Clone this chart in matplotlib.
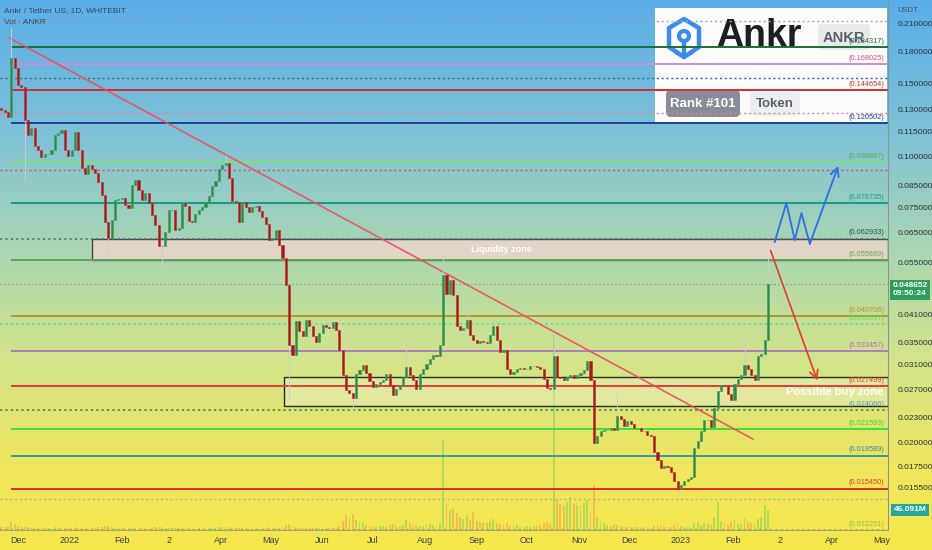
import numpy as np
import matplotlib
matplotlib.use("Agg")
import matplotlib.pyplot as plt
import matplotlib.transforms as mtransforms
from matplotlib.colors import LinearSegmentedColormap
from matplotlib.patches import Rectangle, FancyBboxPatch, Circle
from matplotlib.ticker import NullLocator

plt.rcParams['font.family'] = ['Liberation Sans', 'DejaVu Sans']

# ANKR/USDT, 2-day candles (close prices, USDT)
first_date = '2021-11-21'
first_open = 0.131
closes = [
    0.1295, 0.1281, 0.1246, 0.1735, 0.1640, 0.1491, 0.1474, 0.1225, 0.1126, 0.1171,
    0.1058, 0.1035, 0.0995, 0.1012, 0.1012, 0.1035, 0.1126, 0.1139, 0.1158, 0.1035,
    0.1001, 0.1035, 0.1145, 0.1035, 0.0935, 0.0904, 0.0951, 0.0930, 0.0909, 0.0864,
    0.0803, 0.0690, 0.0631, 0.0698, 0.0781, 0.0785, 0.0790, 0.0760, 0.0747, 0.0850,
    0.0874, 0.0826, 0.0781, 0.0812, 0.0768, 0.0718, 0.0679, 0.0603, 0.0603, 0.0653,
    0.0739, 0.0739, 0.0660, 0.0668, 0.0768, 0.0755, 0.0694, 0.0690, 0.0722, 0.0739,
    0.0751, 0.0768, 0.0799, 0.0845, 0.0869, 0.0930, 0.0951, 0.0962, 0.0884, 0.0777,
    0.0773, 0.0690, 0.0773, 0.0751, 0.0730, 0.0751, 0.0755, 0.0735, 0.0710, 0.0683,
    0.0624, 0.0631, 0.0660, 0.0607, 0.0564, 0.0485, 0.0346, 0.0327, 0.0396, 0.0374,
    0.0364, 0.0398, 0.0385, 0.0364, 0.0352, 0.0370, 0.0387, 0.0383, 0.0380, 0.0394,
    0.0376, 0.0336, 0.0292, 0.0269, 0.0264, 0.0257, 0.0294, 0.0301, 0.0309, 0.0296,
    0.0283, 0.0274, 0.0278, 0.0281, 0.0284, 0.0294, 0.0276, 0.0261, 0.0270, 0.0276,
    0.0289, 0.0306, 0.0292, 0.0284, 0.0271, 0.0294, 0.0302, 0.0311, 0.0320, 0.0327,
    0.0325, 0.0346, 0.0513, 0.0460, 0.0499, 0.0458, 0.0385, 0.0376, 0.0380, 0.0398,
    0.0366, 0.0356, 0.0350, 0.0354, 0.0352, 0.0350, 0.0366, 0.0385, 0.0356, 0.0332,
    0.0336, 0.0302, 0.0294, 0.0297, 0.0302, 0.0304, 0.0302, 0.0302, 0.0307, 0.0307,
    0.0306, 0.0302, 0.0286, 0.0272, 0.0271, 0.0325, 0.0289, 0.0287, 0.0284, 0.0289,
    0.0292, 0.0287, 0.0292, 0.0296, 0.0301, 0.0316, 0.0284, 0.0200, 0.0208, 0.0213,
    0.0215, 0.0215, 0.0217, 0.0215, 0.0232, 0.0228, 0.0220, 0.0226, 0.0222, 0.0217,
    0.0217, 0.0213, 0.0213, 0.0209, 0.0208, 0.0190, 0.0181, 0.0173, 0.0175, 0.0174,
    0.0170, 0.0161, 0.0154, 0.0158, 0.0161, 0.0163, 0.0165, 0.0194, 0.0202, 0.0213,
    0.0227, 0.0227, 0.0218, 0.0243, 0.0267, 0.0276, 0.0275, 0.0263, 0.0254, 0.0278,
    0.0286, 0.0292, 0.0309, 0.0302, 0.0292, 0.0284, 0.0325, 0.0329, 0.0356, 0.048652,
]
# long wicks that stand out (candle index -> price)
wick_highs = {3: 0.2065, 67: 0.1006, 121: 0.0346, 132: 0.0580, 139: 0.0445,
              165: 0.0366, 184: 0.0264, 222: 0.0356, 229: 0.0568}
wick_lows = {7: 0.0874, 32: 0.0572, 48: 0.0522, 86: 0.0252, 105: 0.0237,
             177: 0.0196, 202: 0.0150}
# volume, millions of ANKR
volumes = [
    6, 8, 9, 19, 14, 10, 8, 7, 6, 5,
    5, 4, 6, 5, 4, 4, 6, 5, 4, 5,
    4, 5, 6, 4, 5, 4, 3, 4, 5, 6,
    7, 9, 10, 6, 5, 4, 4, 3, 4, 5,
    4, 3, 4, 3, 4, 5, 6, 8, 7, 5,
    4, 4, 5, 4, 4, 3, 4, 3, 3, 4,
    3, 4, 4, 5, 6, 6, 7, 8, 6, 5,
    4, 4, 5, 4, 3, 3, 4, 3, 4, 5,
    6, 5, 4, 5, 7, 12, 14, 10, 6, 5,
    4, 5, 4, 4, 5, 4, 3, 4, 4, 5,
    6, 10, 20, 35, 30, 38, 22, 18, 15, 12,
    10, 9, 8, 10, 9, 8, 12, 14, 10, 9,
    12, 23, 15, 10, 12, 9, 10, 12, 14, 11,
    10, 15, 207, 60, 45, 50, 40, 30, 25, 35,
    22, 42, 20, 18, 15, 17, 20, 25, 16, 14,
    12, 15, 10, 9, 11, 8, 9, 10, 8, 9,
    10, 12, 15, 19, 14, 449, 70, 60, 55, 65,
    77, 60, 58, 55, 62, 68, 40, 104, 30, 20,
    15, 12, 10, 14, 12, 9, 8, 7, 6, 8,
    6, 5, 6, 7, 5, 10, 12, 9, 7, 6,
    8, 11, 14, 9, 7, 6, 5, 15, 19, 12,
    16, 14, 12, 30, 65, 20, 15, 12, 18, 22,
    14, 12, 27, 18, 15, 14, 25, 30, 58, 46.091,
]

# fib / horizontal levels with labels
levels = [0.184317, 0.168025, 0.144654, 0.120502, 0.096867, 0.076735, 0.062933,
          0.055889, 0.040706, 0.038917, 0.033457, 0.027499, 0.024066, 0.021593,
          0.018589, 0.015450, 0.012251]
level_colors = ['#1b6e3a', '#cf8bd6', '#d32f2f', '#1f3f99', '#7ee07e', '#14998a', '#4a6a8a',
                '#5aa05a', '#b39a2a', '#5de05d', '#b07cc0', '#e53935', '#3a7a4a', '#3ddc3d',
                '#3a9aa8', '#d73030', '#8a9a70']
label_colors = ['#1b6e3a', '#e0507a', '#d32f2f', '#1f3f99', '#4caf50', '#14998a', '#2e4a6a',
                '#6aa84f', '#b39a2a', '#5de05d', '#a070b0', '#e53935', '#5b8fb0', '#3ccf3c',
                '#2a8fa8', '#e53935', '#8bc34a']
dotted_levels = [0.062933, 0.038917, 0.024066, 0.012251]
# unlabelled dotted rays
rays = [0.2136, 0.155, 0.1274, 0.0925, 0.01457]
ray_colors = ['#a0a8b0', '#2b6f7f', '#e57fa0', '#d05050', '#b0b090']

liquidity_zone = ('2022-01-14', 0.055889, 0.062933)
buy_zone = ('2022-05-09', 0.0246, 0.0289)
trend = [('2021-11-26', 0.194), ('2023-02-13', 0.0204)]
drop_arrow = [('2023-02-23', 0.0597), ('2023-03-24', 0.02795)]
blue_path_dates = ['2023-02-26', '2023-03-05', '2023-03-10', '2023-03-14', '2023-03-19', '2023-04-05']
blue_path_prices = [0.0617, 0.0768, 0.0624, 0.0726, 0.0611, 0.0946]

yticks = [0.21, 0.18, 0.15, 0.13, 0.115, 0.10, 0.085, 0.075, 0.065, 0.055,
          0.041, 0.035, 0.031, 0.027, 0.023, 0.020, 0.0175, 0.0155]
month_labels = ['Dec', '2022', 'Feb', '2', 'Apr', 'May', 'Jun', 'Jul', 'Aug', 'Sep',
                'Oct', 'Nov', 'Dec', '2023', 'Feb', '2', 'Apr', 'May']

base = np.datetime64('2021-12-01')


def day(d):
    return int((np.datetime64(d) - base).astype(int))


n = len(closes)
xs = day(first_date) + 2 * np.arange(n)
closes_a = np.array(closes)
opens = np.concatenate([[first_open], closes_a[:-1]])
highs = np.maximum(opens, closes_a)
lows = np.minimum(opens, closes_a)
for k, v in wick_highs.items():
    highs[k] = v
for k, v in wick_lows.items():
    lows[k] = v
up = closes_a >= opens

W, H = 932, 550
fig = plt.figure(figsize=(W / 100, H / 100), dpi=100)

# gradient background over whole figure
bg = fig.add_axes([0, 0, 1, 1], zorder=0)
cmap = LinearSegmentedColormap.from_list('tv', [(0.0, '#5aaee9'), (0.25, '#80c2d6'), (0.45, '#a9d6b2'),
                                               (0.65, '#d2e48c'), (0.85, '#efe65e'), (1.0, '#f6e84a')])
bg.imshow(cmap(np.linspace(0, 1, 256))[:, None, :], aspect='auto', extent=[0, 1, 0, 1])
bg.axis('off')

# coin card (pixel space)
deco = fig.add_axes([0, 0, 1, 1], zorder=0.5)
deco.set_xlim(0, W)
deco.set_ylim(H, 0)
deco.axis('off')
deco.add_patch(Rectangle((655, 8), 232, 115, fc='#fbfbfc', ec='none'))
blue = '#3d8be8'
deco.plot([678, 669, 669, 684, 699, 699, 690], [53, 47, 28, 19, 28, 47, 53], color=blue, lw=3.2,
          solid_capstyle='round', solid_joinstyle='round')
deco.add_patch(Circle((684, 36), 5, fc='none', ec=blue, lw=3))
deco.plot([684, 684], [42, 57], color=blue, lw=3.2, solid_capstyle='round')
deco.plot([676, 684, 692], [52, 57, 52], color=blue, lw=3.2, solid_capstyle='round',
          solid_joinstyle='round')
deco.text(716, 36, 'Ankr', fontsize=27, fontweight='bold', color='#1b1f24', va='center', ha='left')
deco.add_patch(FancyBboxPatch((820, 26), 48, 22, boxstyle='round,pad=2,rounding_size=4',
                              fc='#e8eaed', ec='none'))
deco.text(844, 37.5, 'ANKR', fontsize=10.5, fontweight='bold', color='#5c6068', va='center', ha='center')
deco.add_patch(FancyBboxPatch((668, 92), 70, 23, boxstyle='round,pad=2,rounding_size=5',
                              fc='#878c99', ec='none'))
deco.text(703, 104, 'Rank #101', fontsize=9.5, fontweight='bold', color='white', va='center', ha='center')
deco.add_patch(FancyBboxPatch((752, 94), 46, 20, boxstyle='round,pad=2,rounding_size=4',
                              fc='#eceef1', ec='none'))
deco.text(775, 104, 'Token', fontsize=9.5, fontweight='bold', color='#5c6068', va='center', ha='center')

rect = [0, 1 - 530 / H, 888 / W, 530 / H]
x0 = day('2021-12-01') - 18 / 1.674
x1 = x0 + 888 / 1.674

# volume pane
vax = fig.add_axes(rect, zorder=1)
vax.patch.set_alpha(0)
vax.set_xlim(x0, x1)
vax.set_ylim(0, 1221)
vax.axis('off')
vcol = np.where(up, '#4fc45f', '#ee7a55')
vax.bar(xs, volumes, width=1.1, color=vcol, alpha=0.38, lw=0)
vax.annotate(f'{volumes[-1]:.3f}M', xy=(1, volumes[-1]), xycoords=('axes fraction', 'data'),
             xytext=(4, 0), textcoords='offset points', va='center', ha='left', fontsize=6,
             color='white', fontweight='bold', annotation_clip=False,
             bbox=dict(boxstyle='square,pad=0.35', fc='#26a69a', ec='none'))

# price pane
ax = fig.add_axes(rect, zorder=2)
ax.patch.set_alpha(0)
ax.set_yscale('log')
ax.set_xlim(x0, x1)
ax.set_ylim(0.01224, 0.2403)
blend = mtransforms.blended_transform_factory(ax.transAxes, ax.transData)

for v, lc, tc in zip(levels, level_colors, label_colors):
    if v in dotted_levels:
        ax.axhline(v, xmin=0, color=lc, lw=1.1, ls=(0, (1.5, 2)), zorder=1)
    else:
        ax.axhline(v, xmin=12 / 888, color=lc, lw=1.4, zorder=1)
    ax.text(0.996, v * 1.012, f'({v:.6f})', transform=blend, ha='right', va='bottom',
            fontsize=5.3, color=tc, zorder=6)
for v, c in zip(rays, ray_colors):
    ax.axhline(v, color=c, lw=1.0, ls=(0, (1.5, 2)), zorder=1)
ax.axhline(closes[-1], color='#8a9a9a', lw=0.8, ls=(0, (1.5, 2)), zorder=1)

# zones
lz_x = (day(liquidity_zone[0]) - x0) / (x1 - x0)
ax.axhspan(liquidity_zone[1], liquidity_zone[2], xmin=lz_x, xmax=1, fc='#e6d5c8', ec='#3a3a3a',
           lw=1.0, alpha=0.92, zorder=0.8)
ax.text(day('2022-09-16'), np.sqrt(liquidity_zone[1] * liquidity_zone[2]), 'Liquidity zone',
        ha='center', va='center', fontsize=6.5, fontweight='bold', color='white', zorder=6)
bz_x = (day(buy_zone[0]) - x0) / (x1 - x0)
ax.axhspan(buy_zone[1], buy_zone[2], xmin=bz_x, xmax=1, fc='#eef5e0', ec='none',
           alpha=0.35, zorder=0.8)
ax.axhspan(buy_zone[1], buy_zone[2], xmin=bz_x, xmax=1, fc='none', ec='#22301e', lw=1.0, zorder=0.9)
ax.text(0.995, np.sqrt(buy_zone[1] * buy_zone[2]) * 0.995, 'Possible buy zone', transform=blend,
        ha='right', va='center', fontsize=8, fontweight='bold', color='white', zorder=7)

# trend line and projections
ax.plot([day(trend[0][0]), day(trend[1][0])], [trend[0][1], trend[1][1]], color='#ec4d5f', lw=1.2,
        alpha=0.9, zorder=3)
ax.annotate('', xy=(day(drop_arrow[1][0]), drop_arrow[1][1]),
            xytext=(day(drop_arrow[0][0]), drop_arrow[0][1]),
            arrowprops=dict(arrowstyle='->,head_length=0.6,head_width=0.3', color='#e53935', lw=1.2),
            zorder=5)
bx = [day(d) for d in blue_path_dates]
ax.plot(bx[:-1], blue_path_prices[:-1], color='#2f6fe0', lw=1.3, zorder=5)
ax.annotate('', xy=(bx[-1], blue_path_prices[-1]), xytext=(bx[-2], blue_path_prices[-2]),
            arrowprops=dict(arrowstyle='->,head_length=0.6,head_width=0.3', color='#2f6fe0', lw=1.3,
                            shrinkA=0, shrinkB=0), zorder=5)

# candles
ax.vlines(xs, lows, highs, color='#c9cfcf', lw=0.8, alpha=0.9, zorder=3.5)
body_col = np.where(up, '#2f8a4c', '#9e1c1c')
edge_col = np.where(up, '#3a9a55', '#c02a2a')
ax.bar(xs, np.abs(closes_a - opens), bottom=np.minimum(opens, closes_a), width=1.25,
       color=body_col, edgecolor=edge_col, lw=0.4, zorder=4)

# current price tag
ax.annotate(f'{closes[-1]:.6f}\n09:50:24', xy=(1, closes[-1]), xycoords=('axes fraction', 'data'),
            xytext=(3, -4), textcoords='offset points', va='center', ha='left', fontsize=6,
            color='white', fontweight='bold', linespacing=1.2, annotation_clip=False,
            bbox=dict(boxstyle='square,pad=0.3', fc='#2e9e5e', ec='none'), zorder=8)

# axes
ax.yaxis.tick_right()
ax.set_yticks(yticks)
ax.set_yticklabels([f'{v:.6f}' for v in yticks])
ax.yaxis.set_minor_locator(NullLocator())
months = np.arange('2021-12', '2023-06', dtype='datetime64[M]').astype('datetime64[D]')
ax.set_xticks((months - base).astype(int))
ax.set_xticklabels(month_labels)
ax.tick_params(axis='y', length=0, pad=7, labelsize=6, labelcolor='#2a2e39')
ax.tick_params(axis='x', length=0, pad=4, labelsize=6.5, labelcolor='#3a3e48')
for s in ['top', 'left']:
    ax.spines[s].set_visible(False)
ax.spines['right'].set_color('#8a9494')
ax.spines['right'].set_linewidth(0.8)
ax.spines['bottom'].set_color('#9a9a80')
ax.spines['bottom'].set_linewidth(0.6)

fig.text(4 / W, 1 - 11 / H, 'Ankr / Tether US, 1D, WHITEBIT', fontsize=6.0, color='#3c4250',
         va='center', ha='left')
fig.text(4 / W, 1 - 23 / H, 'Vol · ANKR', fontsize=6.0, color='#3c4250', va='center', ha='left')
fig.text(897 / W, 1 - 10 / H, 'USDT', fontsize=5.5, color='#4a4f5a', va='center', ha='left')

fig.savefig('out.png', dpi=100)
